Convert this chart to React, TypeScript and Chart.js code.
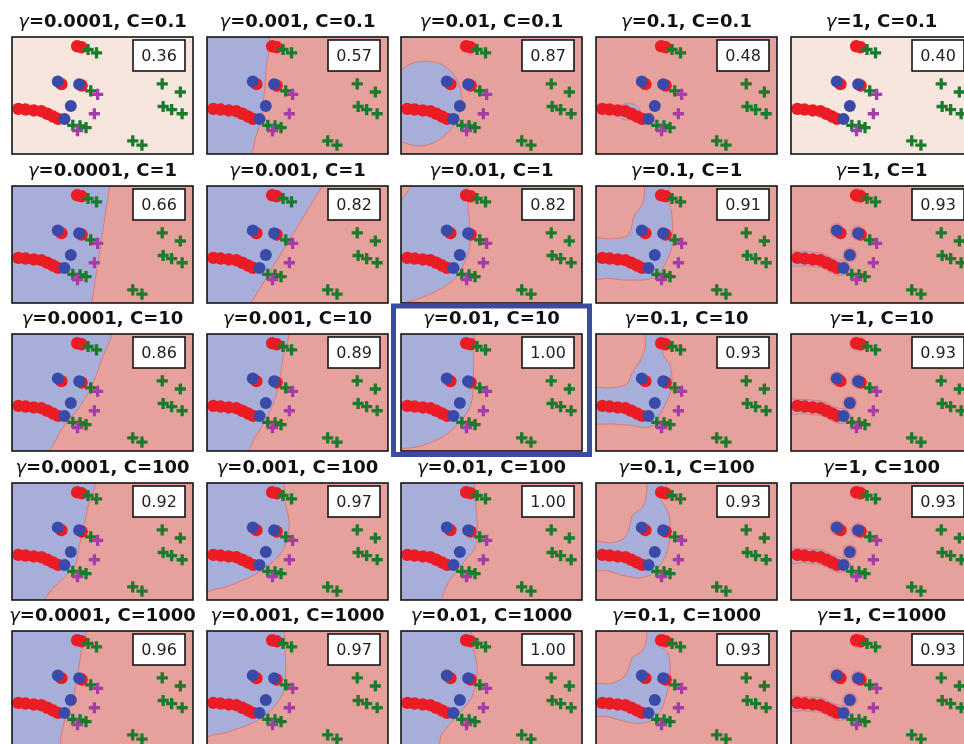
import { useEffect, useRef } from 'react';
import { Chart, registerables } from 'chart.js';
Chart.register(...registerables);

// ---------------- data ----------------
const GAMMAS = ['0.0001', '0.001', '0.01', '0.1', '1'];
const CS = ['0.1', '1', '10', '100', '1000'];
// accuracy per [C row][gamma column]
const SCORES = [
  [0.36, 0.57, 0.87, 0.48, 0.4],
  [0.66, 0.82, 0.82, 0.91, 0.93],
  [0.86, 0.89, 1.0, 0.93, 0.93],
  [0.92, 0.97, 1.0, 0.93, 0.93],
  [0.96, 0.97, 1.0, 0.93, 0.93],
];
const BEST = [2, 2]; // highlighted panel [row, col]

// samples (x %, y % measured from top of each panel)
const RED_PTS = [
  [36, 7.9], [38.5, 8.8], [27.3, 40.3], [38.5, 41.5],
  [3.5, 61.4], [7.5, 62], [12, 62.8], [16.2, 63.4], [19.5, 65.6], [22.7, 68], [25.5, 70],
];
const BLUE_PTS = [[25.3, 38], [37.1, 40.3], [32.5, 59], [29, 70]];
const GREEN_PTS = [
  [42, 10.7], [46.7, 13.5], [43.5, 46], [33.6, 75.5], [37.6, 76], [40.9, 77.5],
  [83, 40], [93, 47], [83.5, 59.4], [88.2, 62], [94, 65.6], [66.7, 88.7], [71.8, 92.4],
];
const PURPLE_PTS = [[47.3, 49], [45.5, 65.6], [36.2, 80]];
const HALO_PTS = [[37.3, 8.3], [25.3, 38], [37.1, 40.3], [32.5, 59]];

// decision regions (blue class area) per [row][col]; null = single-class (flat) panel
const BAND = [[-2, 55.5], [7.5, 56], [12, 56.6], [16.5, 57.2], [20, 59.2], [23, 61.8], [27, 63.5], [30.5, 64.5], [33, 70], [30, 75.5], [25.5, 76.2], [22.5, 74.2], [19.5, 71.8], [16.5, 69.6], [12, 69], [7.5, 68.2], [-2, 67.5]];
const REGIONS: (number[][] | null)[][] = [
  [
    null,
    [[-2, -2], [33, -2], [32.5, 30], [31.5, 50], [30, 70], [27, 85], [23, 102], [-2, 102]],
    [[-2, 31], [3, 25], [8, 21.5], [15, 21], [22, 23], [28, 30], [32, 40], [33.5, 52], [32.5, 64], [29, 76], [22, 87], [14, 92.5], [8, 93], [3, 91], [-2, 87]],
    [[11.5, 64], [12.5, 60], [15, 57.5], [18, 57], [21, 57.5], [23.5, 60], [24.5, 64], [23.5, 68], [21, 70.5], [18, 71], [15, 70.5], [12.5, 68]],
    null,
  ],
  [
    [[-2, -2], [54.2, -2], [43.8, 102], [-2, 102]],
    [[-2, -2], [64.5, -2], [23.5, 102], [-2, 102]],
    [[6.5, -2], [35, -2], [37, 17], [38, 37], [38, 52], [35, 66], [30.5, 78], [24, 86], [15, 93], [6, 98], [-2, 99.5], [-2, 21]],
    [[27, -2], [40, -2], [40, 10], [42, 26], [42, 52], [39, 64], [36, 72], [31, 79], [18, 80.5], [7, 79], [-2, 78], [-2, 46], [9, 45], [18, 42], [21, 26], [26, 14]],
    BAND,
  ],
  [
    [[-2, -2], [54, -2], [50, 20], [45, 41], [38, 61], [28, 80], [18.5, 102], [-2, 102]],
    [[-2, -2], [44, -2], [42, 20], [40, 40], [37, 58], [32, 75], [27, 87], [21, 102], [-2, 102]],
    [[-2, -2], [39, -2], [40, 15], [40, 37], [39.5, 54], [37, 66], [31, 78], [23, 88], [14, 94], [7, 97], [1, 97.8], [-2, 97.8]],
    [[27, -2], [38, -2], [37, 17], [41, 27], [42, 44], [40, 55], [36, 67], [33, 77], [28, 80], [19, 78], [9.5, 77], [-2, 75], [-2, 47], [8, 46], [17, 43], [20, 33], [24, 24], [27, 13]],
    BAND,
  ],
  [
    [[-2, -2], [45, -2], [42, 20], [40, 35], [37, 55], [35, 70], [28, 82], [22, 91], [16, 102], [-2, 102]],
    [[-2, -2], [41, -2], [43, 15], [45.5, 35], [44, 50], [41, 60], [35, 69], [28, 77], [20, 83], [11, 88.5], [4, 91], [-2, 92.5]],
    [[-2, -2], [39, -2], [41, 15], [42, 30], [42, 48], [40, 58], [35.5, 66], [31, 75], [27, 83], [24, 92], [21, 102], [-2, 102]],
    [[28, -2], [39, -2], [37, 8], [36, 14], [40, 25], [41, 43], [39, 60], [35, 71], [31, 78], [24, 81], [15, 79], [6, 75], [-2, 74], [-2, 51], [8, 51], [15, 48], [18, 40], [20, 28], [26, 20], [28, 8]],
    BAND,
  ],
  [
    [[-2, -2], [40, -2], [38, 20], [36, 40], [34, 56], [30, 72], [27, 90], [26, 102], [-2, 102]],
    [[-2, -2], [41, -2], [43, 15], [43.5, 35], [42, 53], [38, 63], [33, 71], [26, 78], [18, 83], [10, 87], [3, 89], [-2, 90.5]],
    [[-2, -2], [37, -2], [40, 15], [42, 30], [41.5, 45], [39, 57], [34, 67], [29, 76], [25.5, 82], [22, 90], [20, 102], [-2, 102]],
    [[28, -2], [38, -2], [37, 6], [36, 12], [40, 20], [41, 37], [38, 60], [34, 72], [30, 77], [24, 79], [15, 77], [6, 73], [-2, 72], [-2, 46], [8, 45], [15, 40], [18, 32], [20, 23], [26, 16], [28, 6]],
    BAND,
  ],
];

// ---------------- style / layout ----------------
const PLOT_W = 181;
const PLOT_H = 117;
const COL_X = [12, 206.7, 401.4, 596.1, 790.8];
const ROW_Y = [37, 185.5, 334, 482.5, 631];
const PAD = { left: 12, right: 12, top: 36, bottom: 10 };
const C_REGION_RED = '#e6a19c';
const C_REGION_BLUE = '#a6aed9';
const C_FLAT = '#f6e6dd';
const C_EDGE = '#de7873';
const C_RED = '#ec1c24';
const C_BLUE = '#3a4aa8';
const C_GREEN = '#1c7a2c';
const C_PURPLE = '#a53ca7';

const toXY = (pts: number[][]) => pts.map(([x, y]) => ({ x, y }));

function Panel({ r, c }: { r: number; c: number }) {
  const ref = useRef<HTMLCanvasElement>(null);
  useEffect(() => {
    const canvas = ref.current;
    if (!canvas) return;
    const region = REGIONS[r][c];
    const flat = region === null;
    const isBand = region === BAND;
    const datasets: any[] = [];
    if (region) {
      const closed = [...region, region[0]];
      datasets.push({
        type: 'line',
        data: toXY(closed),
        fill: 'shape',
        backgroundColor: isBand ? 'rgba(166,174,217,0.75)' : C_REGION_BLUE,
        borderColor: C_EDGE,
        borderWidth: 1,
        pointRadius: 0,
        tension: region.length <= 4 ? 0 : 0.3,
        order: 10,
      });
    }
    if (isBand) {
      datasets.push({
        type: 'scatter',
        data: toXY(HALO_PTS),
        pointRadius: 7.8,
        pointBackgroundColor: 'rgba(214,112,122,0.45)',
        pointBorderWidth: 0,
        order: 7,
      });
    }
    datasets.push(
      { type: 'scatter', data: toXY(RED_PTS), pointRadius: 6.2, pointBackgroundColor: C_RED, pointBorderWidth: 0, order: 5 },
      { type: 'scatter', data: toXY(BLUE_PTS), pointRadius: 6, pointBackgroundColor: C_BLUE, pointBorderWidth: 0, order: 4 },
      { type: 'scatter', data: toXY(GREEN_PTS), pointStyle: 'cross', pointRadius: 5.6, pointBorderColor: C_GREEN, pointBorderWidth: 3.3, order: 3 },
      { type: 'scatter', data: toXY(PURPLE_PTS), pointStyle: 'cross', pointRadius: 5.6, pointBorderColor: C_PURPLE, pointBorderWidth: 3.3, order: 2 },
    );

    const decor = {
      id: 'decor',
      beforeDraw(chart: any) {
        const { ctx, chartArea: a } = chart;
        ctx.save();
        ctx.fillStyle = flat ? C_FLAT : C_REGION_RED;
        ctx.fillRect(a.left, a.top, a.right - a.left, a.bottom - a.top);
        ctx.restore();
      },
      afterDatasetsDraw(chart: any) {
        const { ctx, chartArea: a } = chart;
        ctx.save();
        ctx.strokeStyle = '#151515';
        ctx.lineWidth = 1.6;
        ctx.strokeRect(a.left, a.top, a.right - a.left, a.bottom - a.top);
        // score box
        const bw = 52, bh = 31;
        const bx = a.right - 8 - bw, by = a.top + 3;
        ctx.fillStyle = '#ffffff';
        ctx.fillRect(bx, by, bw, bh);
        ctx.lineWidth = 1.6;
        ctx.strokeRect(bx, by, bw, bh);
        ctx.fillStyle = '#222';
        ctx.font = '16px "DejaVu Sans"';
        ctx.textAlign = 'center';
        ctx.textBaseline = 'middle';
        ctx.fillText(SCORES[r][c].toFixed(2), bx + bw / 2, by + bh / 2 + 1);
        ctx.restore();
      },
      afterDraw(chart: any) {
        const { ctx, chartArea: a } = chart;
        ctx.save();
        const fI = 'italic 18px "DejaVu Sans"';
        const fB = 'bold 18px "DejaVu Sans"';
        const rest = `=${GAMMAS[c]}, C=${CS[r]}`;
        ctx.font = fI;
        const w1 = ctx.measureText('γ').width;
        ctx.font = fB;
        const w2 = ctx.measureText(rest).width;
        const x0 = (a.left + a.right) / 2 - (w1 + w2) / 2;
        const base = a.top - 10;
        ctx.fillStyle = '#111';
        ctx.textAlign = 'left';
        ctx.textBaseline = 'alphabetic';
        ctx.font = fI;
        ctx.fillText('γ', x0, base);
        ctx.font = fB;
        ctx.fillText(rest, x0 + w1, base);
        if (r === BEST[0] && c === BEST[1]) {
          ctx.strokeStyle = '#3a4ba0';
          ctx.lineWidth = 5;
          ctx.strokeRect(a.left - 7.5, a.top - 28, 196, 148.5);
        }
        ctx.restore();
      },
    };

    const chart = new Chart(canvas, {
      type: 'scatter',
      data: { datasets },
      options: {
        animation: false,
        responsive: false,
        events: [],
        layout: { padding: PAD },
        plugins: { legend: { display: false }, tooltip: { enabled: false }, title: { display: false } },
        scales: {
          x: { type: 'linear', min: 0, max: 100, display: false },
          y: { type: 'linear', min: 0, max: 100, reverse: true, display: false },
        },
      } as any,
      plugins: [decor],
    });
    return () => chart.destroy();
  }, [r, c]);

  const w = PLOT_W + PAD.left + PAD.right;
  const h = PLOT_H + PAD.top + PAD.bottom;
  return (
    <canvas
      ref={ref}
      width={w}
      height={h}
      style={{
        position: 'absolute',
        left: Math.round(COL_X[c]) - PAD.left,
        top: Math.round(ROW_Y[r]) - PAD.top,
        width: w,
        height: h,
      }}
    />
  );
}

export default function App() {
  const cells: JSX.Element[] = [];
  for (let r = 0; r < CS.length; r++) {
    for (let c = 0; c < GAMMAS.length; c++) {
      cells.push(<Panel key={`${r}-${c}`} r={r} c={c} />);
    }
  }
  return (
    <div
      style={{
        position: 'fixed',
        left: 0,
        top: 0,
        width: 964,
        height: 744,
        overflow: 'hidden',
        background: '#ffffff',
      }}
    >
      {cells}
    </div>
  );
}
